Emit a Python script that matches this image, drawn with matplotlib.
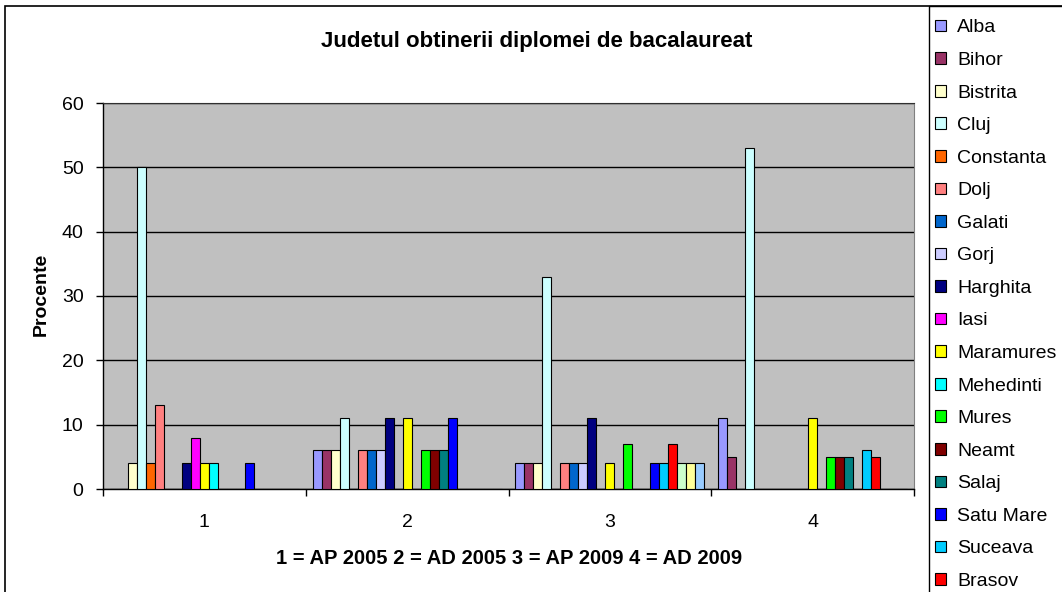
import numpy as np
import matplotlib
matplotlib.use("Agg")
import matplotlib.pyplot as plt
from matplotlib.patches import Rectangle

plt.rcParams['font.family'] = ['Liberation Sans', 'DejaVu Sans']

# categorii pe axa x
grupe = ['1', '2', '3', '4']

# judete (ultimele trei nu se vad in legenda taiata)
judete = ['Alba', 'Bihor', 'Bistrita', 'Cluj', 'Constanta', 'Dolj', 'Galati',
          'Gorj', 'Harghita', 'Iasi', 'Maramures', 'Mehedinti', 'Mures',
          'Neamt', 'Salaj', 'Satu Mare', 'Suceava', 'Brasov',
          'Serie 19', 'Serie 20', 'Serie 21']

alba = [0, 6, 4, 11]
bihor = [0, 6, 4, 5]
bistrita = [4, 6, 4, 0]
cluj = [50, 11, 33, 53]
constanta = [4, 0, 0, 0]
dolj = [13, 6, 4, 0]
galati = [0, 6, 4, 0]
gorj = [0, 6, 4, 0]
harghita = [4, 11, 11, 0]
iasi = [8, 0, 0, 0]
maramures = [4, 11, 4, 11]
mehedinti = [4, 0, 0, 0]
mures = [0, 6, 7, 5]
neamt = [0, 6, 0, 5]
salaj = [0, 6, 0, 5]
satu_mare = [4, 11, 4, 0]
suceava = [0, 0, 4, 6]
brasov = [0, 0, 7, 5]
serie19 = [0, 0, 4, 0]
serie20 = [0, 0, 4, 0]
serie21 = [0, 0, 4, 0]

valori = [alba, bihor, bistrita, cluj, constanta, dolj, galati, gorj, harghita,
          iasi, maramures, mehedinti, mures, neamt, salaj, satu_mare, suceava,
          brasov, serie19, serie20, serie21]

culori = ['#9999FF', '#993366', '#FFFFCC', '#CCFFFF', '#FF6600', '#FF8080',
          '#0066CC', '#CCCCFF', '#000080', '#FF00FF', '#FFFF00', '#00FFFF',
          '#00FF00', '#800000', '#008080', '#0000FF', '#00CCFF', '#FF0000',
          '#CCFFCC', '#FFFF99', '#99CCFF']

W, H = 1062, 592
fig = plt.figure(figsize=(W / 100, H / 100), dpi=100)
ax = fig.add_axes([103 / W, 1 - 489 / H, (914 - 103) / W, (489 - 103) / H])
ax.set_facecolor('#C0C0C0')

n = len(judete)
latime = 1 / (n + 1.5)
x = np.arange(1, len(grupe) + 1)
bare = []
for i in range(n):
    poz = x - 0.5 + 0.75 * latime + (i + 0.5) * latime
    b = ax.bar(poz, valori[i], width=latime, color=culori[i],
               edgecolor='black', linewidth=0.8, label=judete[i], zorder=3)
    bare.append(b)

ax.set_xlim(0.5, len(grupe) + 0.5)
ax.set_ylim(0, 60)
ax.set_yticks(range(0, 61, 10))
ax.yaxis.grid(True, color='black', linewidth=1, zorder=1)
ax.set_axisbelow(True)

ax.set_xticks(x)
ax.set_xticklabels(grupe)
ax.set_xticks(np.arange(0.5, len(grupe) + 1), minor=True)
ax.tick_params(axis='x', which='major', length=0, pad=18, labelsize=14)
ax.tick_params(axis='x', which='minor', length=5, width=1, direction='out')
ax.tick_params(axis='y', length=5, width=1, direction='out', pad=9, labelsize=14)

for s in ['left', 'bottom']:
    ax.spines[s].set_color('black')
    ax.spines[s].set_linewidth(1)
ax.spines['top'].set_color('#303030')
ax.spines['right'].set_color('#808080')

fig.text(537 / W, 1 - 42 / H, 'Judetul obtinerii diplomei de bacalaureat',
         ha='center', va='center', fontsize=16, fontweight='bold')
fig.text(41 / W, 1 - 294 / H, 'Procente', rotation=90, ha='center',
         va='center', fontsize=14, fontweight='bold')
fig.text(509 / W, 1 - 558 / H, '1 = AP 2005 2 = AD 2005 3 = AP 2009 4 = AD 2009',
         ha='center', va='center', fontsize=14.5, fontweight='bold')

# chenarul graficului si al legendei
fig.patches.append(Rectangle((5 / W, -0.2), 2, 1.2 - 6 / H, transform=fig.transFigure,
                             fill=False, edgecolor='black', linewidth=1.2))
fig.patches.append(Rectangle((929 / W, -0.2), 1, 1.2 - 6 / H, transform=fig.transFigure,
                             fill=False, edgecolor='black', linewidth=1))

leg = fig.legend(handles=bare[:18], loc='upper left',
                 bbox_to_anchor=(935 / W, 1 - 19.5 / H), borderaxespad=0,
                 fontsize=14, frameon=False,
                 handlelength=0.55, handleheight=0.55, handletextpad=0.6,
                 labelspacing=0.8, borderpad=0)

fig.savefig('out.png', dpi=100, facecolor='white')
